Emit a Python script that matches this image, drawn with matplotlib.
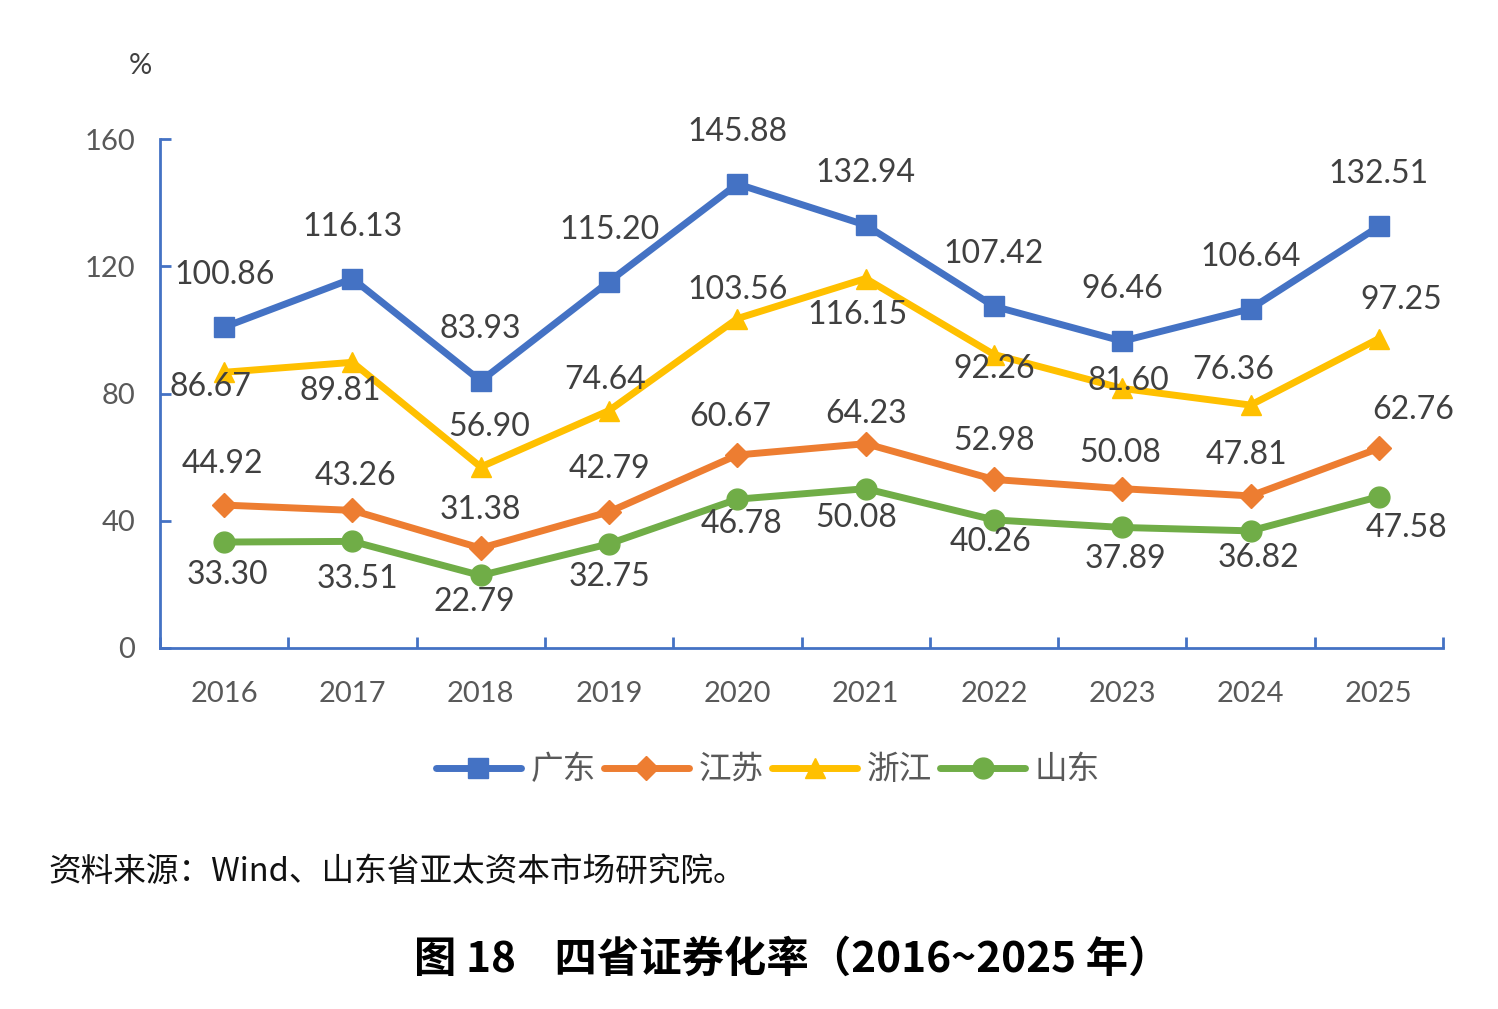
import matplotlib
matplotlib.use("Agg")
import matplotlib.pyplot as plt
import numpy as np

years = ["2016", "2017", "2018", "2019", "2020", "2021", "2022", "2023", "2024", "2025"]
guangdong = [100.86, 116.13, 83.93, 115.20, 145.88, 132.94, 107.42, 96.46, 106.64, 132.51]
jiangsu = [44.92, 43.26, 31.38, 42.79, 60.67, 64.23, 52.98, 50.08, 47.81, 62.76]
zhejiang = [86.67, 89.81, 56.90, 74.64, 103.56, 116.15, 92.26, 81.60, 76.36, 97.25]
shandong = [33.30, 33.51, 22.79, 32.75, 46.78, 50.08, 40.26, 37.89, 36.82, 47.58]
names = ["广东", "江苏", "浙江", "山东"]

# label offsets in pixels (dx, dy) relative to each point
off_gd = [(0, 52)] * 10
off_js = [(-2, 41), (3, 34), (0, 38), (0, 43), (-7, 38), (0, 30), (0, 38), (-2, 36), (-4, 41), (34, 38)]
off_zj = [(-14, -15), (-12, -29), (8, 40), (-4, 31), (0, 29), (-8, -36), (0, -14), (6, 7), (-17, 35), (22, 39)]
off_sd = [(3, -33), (5, -38), (-6, -27), (0, -33), (4, -25), (-9, -29), (-3, -22), (3, -32), (8, -27), (28, -31)]

series = [
    (guangdong, "#4472C4", "s", 14, off_gd),
    (jiangsu, "#ED7D31", "D", 12, off_js),
    (zhejiang, "#FFC000", "^", 15, off_zj),
    (shandong, "#70AD47", "o", 15, off_sd),
]

plt.rcParams["font.family"] = ["Lato", "Noto Sans CJK SC", "DejaVu Sans"]
fig = plt.figure(figsize=(14.98, 10.09), dpi=100)
ax = fig.add_axes([0.1068, 0.3578, 0.8565, 0.5044])

x = np.arange(len(years))
for (vals, color, mk, ms, offs), name in zip(series, names):
    ax.plot(x, vals, color=color, lw=5, marker=mk, markersize=ms,
            label=name, solid_capstyle="round", solid_joinstyle="round")
    for xi, v, (dx, dy) in zip(x, vals, offs):
        ax.annotate(f"{v:.2f}", (xi, v), xytext=(dx, dy), textcoords="offset pixels",
                    ha="center", va="center", fontsize=23, color="#404040")

axis_blue = "#4472C4"
ax.set_xlim(-0.5, 9.5)
ax.set_ylim(0, 160)
ax.set_yticks([0, 40, 80, 120, 160])
ax.set_xticks(x)
ax.set_xticklabels(years)
ax.set_xticks(np.arange(-0.5, 10, 1), minor=True)
for s in ["top", "right"]:
    ax.spines[s].set_visible(False)
for s in ["left", "bottom"]:
    ax.spines[s].set_color(axis_blue)
    ax.spines[s].set_linewidth(2)
ax.tick_params(axis="x", which="major", length=0, pad=24, labelsize=21, labelcolor="#595959")
ax.tick_params(axis="x", which="minor", direction="in", length=8, width=2, color=axis_blue)
ax.tick_params(axis="y", direction="in", length=8, width=2, color=axis_blue,
               pad=18, labelsize=21, labelcolor="#595959")

fig.text(140 / 1498, 1 - 66 / 1009, "%", ha="center", va="center", fontsize=21, color="#404040")

leg = fig.legend(loc="center", bbox_to_anchor=(768 / 1498, 1 - 770 / 1009), ncol=4,
                 frameon=False, handlelength=2.6, handletextpad=0.3, columnspacing=0.25,
                 prop={"family": ["Noto Sans CJK SC"], "size": 23.5, "weight": "light"})
for t in leg.get_texts():
    t.set_color("#595959")

fig.text(48 / 1498, 1 - 872 / 1009, "资料来源：Wind、山东省亚太资本市场研究院。",
         ha="left", va="center", fontsize=23.5, family=["Noto Sans CJK SC"], color="#111111")
fig.text(792 / 1498, 1 - 960 / 1009, "图 18    四省证券化率（2016~2025 年）",
         ha="center", va="center", fontsize=30.5, weight="bold", family=["Noto Sans CJK SC"],
         color="#000000")

fig.savefig("out.png", dpi=100)
